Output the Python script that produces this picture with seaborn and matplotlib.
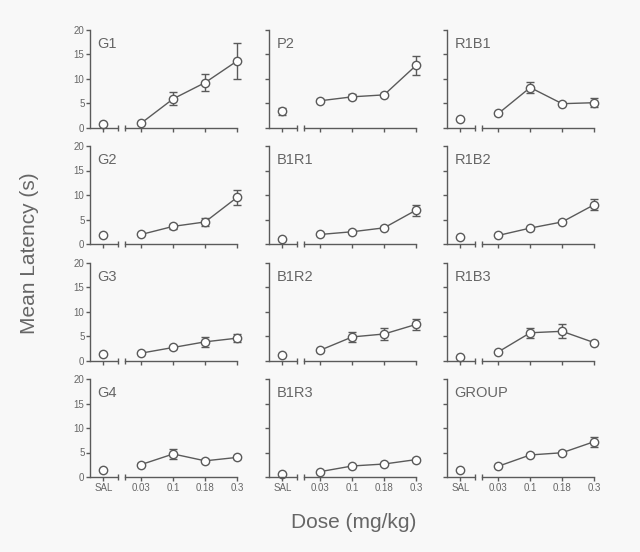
import numpy as np
import pandas as pd
import seaborn as sns
import matplotlib.pyplot as plt


# ==============================
# Data (mean latency, s)
# ==============================
DOSES = ["SAL", "0.03", "0.1", "0.18", "0.3"]

PANELS = ["G1", "P2", "R1B1",
          "G2", "B1R1", "R1B2",
          "G3", "B1R2", "R1B3",
          "G4", "B1R3", "GROUP"]

# values in order: SAL, 0.03, 0.1, 0.18, 0.3
MEANS = {
    "G1":    [0.75, 0.95, 5.9, 9.2, 13.6],
    "P2":    [3.35, 5.5, 6.3, 6.7, 12.7],
    "R1B1":  [1.85, 2.9, 8.2, 4.9, 5.1],
    "G2":    [1.75, 1.95, 3.6, 4.5, 9.5],
    "B1R1":  [1.0, 1.95, 2.5, 3.3, 6.9],
    "R1B2":  [1.35, 1.75, 3.25, 4.5, 8.0],
    "G3":    [1.4, 1.55, 2.7, 3.85, 4.6],
    "B1R2":  [1.2, 2.15, 4.85, 5.45, 7.4],
    "R1B3":  [0.75, 1.8, 5.7, 6.0, 3.7],
    "G4":    [1.35, 2.55, 4.7, 3.3, 4.0],
    "B1R3":  [0.55, 1.1, 2.25, 2.65, 3.55],
    "GROUP": [1.35, 2.2, 4.5, 4.95, 7.2],
}

SEMS = {
    "G1":    [0.2, 0.2, 1.35, 1.75, 3.7],
    "P2":    [0.7, 0.3, 0.5, 0.3, 1.85],
    "R1B1":  [0.2, 0.3, 1.2, 0.3, 0.95],
    "G2":    [0.2, 0.2, 0.5, 0.9, 1.55],
    "B1R1":  [0.2, 0.2, 0.3, 0.3, 1.1],
    "R1B2":  [0.2, 0.2, 0.3, 0.3, 1.1],
    "G3":    [0.2, 0.2, 0.3, 1.0, 0.75],
    "B1R2":  [0.2, 0.3, 1.1, 1.3, 1.1],
    "R1B3":  [0.2, 0.2, 1.05, 1.45, 0.3],
    "G4":    [0.2, 0.3, 1.0, 0.3, 0.3],
    "B1R3":  [0.2, 0.2, 0.3, 0.3, 0.3],
    "GROUP": [0.2, 0.2, 0.3, 0.3, 1.0],
}

# ==============================
# Long-form table
# ==============================
# x positions: SAL alone, then the dose series after an axis break
POS = [0.0, 1.19, 2.19, 3.19, 4.19]

rows = []
for p in PANELS:
    for i, d in enumerate(DOSES):
        rows.append({"Panel": p, "Dose": d, "pos": POS[i],
                     "Mean": MEANS[p][i], "SEM": SEMS[p][i]})
df = pd.DataFrame(rows)


# ==============================
# Style
# ==============================
BG = "#f8f8f8"
INK = "#5a5a5a"
TXT = "#666666"

sns.set_style("ticks")
plt.rcParams["font.family"] = ["Liberation Sans", "DejaVu Sans"]
plt.rcParams["axes.facecolor"] = BG
plt.rcParams["figure.facecolor"] = BG

fig = plt.figure(figsize=(6.4, 5.52), dpi=100)

lefts = [90, 269, 447]
zeros = [127.7, 244, 360.7, 477]
W, H = 147, 98

for k, p in enumerate(PANELS):
    r, c = divmod(k, 3)
    ax = fig.add_axes([lefts[c] / 640, 1 - zeros[r] / 552, W / 640, H / 552])
    sub = df[df["Panel"] == p]
    sal = sub[sub["Dose"] == "SAL"]
    dose = sub[sub["Dose"] != "SAL"]

    ax.errorbar(sub["pos"], sub["Mean"], yerr=sub["SEM"], fmt="none",
                ecolor=INK, elinewidth=1, capsize=3, capthick=1,
                clip_on=False, zorder=2)
    sns.lineplot(data=dose, x="pos", y="Mean", ax=ax, color=INK, lw=1,
                 marker="o", markersize=6, markerfacecolor="white",
                 markeredgecolor=INK, markeredgewidth=1, clip_on=False,
                 zorder=3)
    sns.scatterplot(data=sal, x="pos", y="Mean", ax=ax, s=36,
                    facecolor="white", edgecolor=INK, linewidth=1,
                    clip_on=False, zorder=3)

    ax.set_xlim(-0.42, 4.19)
    ax.set_ylim(0, 20)
    ax.set_yticks([0, 5, 10, 15, 20])
    ax.set_xticks(POS)
    ax.set_xticks([0.45, 0.68], minor=True)
    ax.set_xlabel("")
    ax.set_ylabel("")

    # broken x axis
    ax.spines["top"].set_visible(False)
    ax.spines["right"].set_visible(False)
    ax.spines["bottom"].set_bounds(0.68, 4.19)
    ax.plot([-0.42, 0.45], [0, 0], color=INK, lw=1, clip_on=False,
            transform=ax.get_xaxis_transform(), zorder=4)
    for s in ["left", "bottom"]:
        ax.spines[s].set_color(INK)
        ax.spines[s].set_linewidth(1)

    ax.tick_params(axis="both", which="major", length=3, width=1,
                   color=INK, labelcolor=TXT, labelsize=7, pad=1)
    ax.tick_params(axis="x", which="minor", direction="inout", length=5,
                   width=1, color=INK)

    if c == 0:
        ax.set_yticklabels(["0", "5", "10", "15", "20"])
    else:
        ax.set_yticklabels([])
    if r == 3:
        ax.set_xticklabels(DOSES)
    else:
        ax.set_xticklabels([])

    ax.text(0.05, 0.93, p, transform=ax.transAxes, ha="left", va="top",
            fontsize=10.5, color=TXT)

fig.text(30 / 640, 1 - 253 / 552, "Mean Latency (s)", rotation=90,
         ha="center", va="center", fontsize=15, color=TXT)
fig.text(354 / 640, 1 - 523 / 552, "Dose (mg/kg)",
         ha="center", va="center", fontsize=15, color=TXT)

fig.savefig("out.png", dpi=100, facecolor=BG)
